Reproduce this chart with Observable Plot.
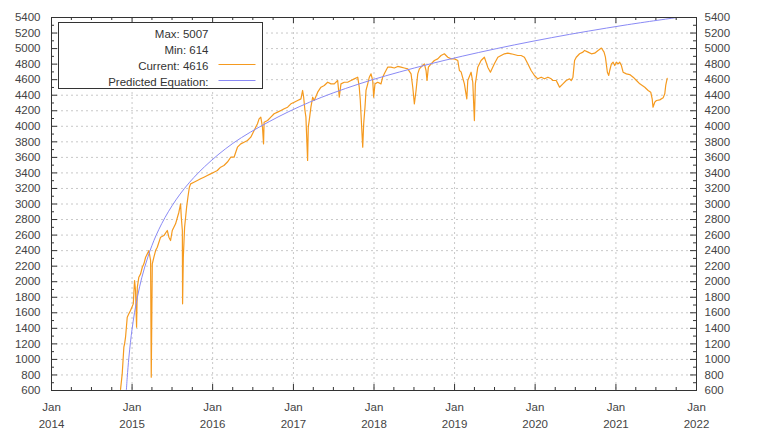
<!DOCTYPE html>
<html>
<head>
<meta charset="utf-8">
<script src="https://cdn.jsdelivr.net/npm/d3@7"></script>
<script src="https://cdn.jsdelivr.net/npm/@observablehq/plot@0.6"></script>
<style>
  html, body { margin: 0; padding: 0; background: #fff; }
</style>
</head>
<body>
<div id="chart"></div>
<script>
// ---- Data (decimal years) ----
const currentYears = [
  2014.857, 2014.878, 2014.898, 2014.907, 2014.919, 2014.940, 2014.960, 2014.981, 2015.015, 2015.031,
  2015.043, 2015.056, 2015.065, 2015.084, 2015.106, 2015.127, 2015.147, 2015.168, 2015.189, 2015.209,
  2015.230, 2015.238, 2015.251, 2015.271, 2015.292, 2015.313, 2015.354, 2015.395, 2015.437, 2015.457,
  2015.478, 2015.499, 2015.540, 2015.581, 2015.602, 2015.611, 2015.624, 2015.627, 2015.636, 2015.652,
  2015.677, 2015.693, 2015.711, 2015.727, 2015.768, 2015.810, 2015.851, 2015.892, 2015.934, 2015.975,
  2016.016, 2016.058, 2016.099, 2016.140, 2016.183, 2016.224, 2016.265, 2016.307, 2016.348, 2016.389,
  2016.431, 2016.472, 2016.513, 2016.555, 2016.575, 2016.596, 2016.617, 2016.630, 2016.637, 2016.680,
  2016.720, 2016.761, 2016.804, 2016.845, 2016.886, 2016.928, 2016.969, 2017.010, 2017.052, 2017.093,
  2017.114, 2017.127, 2017.143, 2017.155, 2017.176, 2017.184, 2017.196, 2017.217, 2017.239, 2017.258,
  2017.301, 2017.342, 2017.383, 2017.425, 2017.466, 2017.507, 2017.549, 2017.569, 2017.590, 2017.631,
  2017.673, 2017.714, 2017.755, 2017.798, 2017.817, 2017.830, 2017.860, 2017.872, 2017.888, 2017.901,
  2017.922, 2017.942, 2017.963, 2017.984, 2017.996, 2018.012, 2018.046, 2018.087, 2018.108, 2018.128,
  2018.170, 2018.211, 2018.252, 2018.294, 2018.335, 2018.376, 2018.419, 2018.460, 2018.481, 2018.501,
  2018.522, 2018.543, 2018.563, 2018.584, 2018.605, 2018.625, 2018.646, 2018.658, 2018.675, 2018.708,
  2018.749, 2018.791, 2018.832, 2018.873, 2018.916, 2018.957, 2018.998, 2019.040, 2019.060, 2019.081,
  2019.122, 2019.152, 2019.164, 2019.205, 2019.226, 2019.246, 2019.258, 2019.288, 2019.329, 2019.370,
  2019.412, 2019.445, 2019.494, 2019.537, 2019.578, 2019.619, 2019.661, 2019.702, 2019.785, 2019.826,
  2019.867, 2019.909, 2019.950, 2019.991, 2020.033, 2020.075, 2020.116, 2020.158, 2020.199, 2020.220,
  2020.261, 2020.282, 2020.302, 2020.344, 2020.385, 2020.426, 2020.447, 2020.468, 2020.488, 2020.509,
  2020.550, 2020.592, 2020.612, 2020.655, 2020.696, 2020.737, 2020.779, 2020.820, 2020.853, 2020.870,
  2020.894, 2020.911, 2020.923, 2020.944, 2020.965, 2020.985, 2021.006, 2021.027, 2021.047, 2021.068,
  2021.089, 2021.130, 2021.171, 2021.214, 2021.255, 2021.296, 2021.358, 2021.400, 2021.432, 2021.450,
  2021.460, 2021.482, 2021.503, 2021.544, 2021.586, 2021.606, 2021.618, 2021.636
];
const currentValues = [
  614, 818, 1157, 1200, 1286, 1543, 1587, 1629, 1715, 2015,
  1886, 1415, 1929, 2058, 2101, 2186, 2230, 2315, 2358, 2401,
  2273, 771, 2230, 2315, 2401, 2444, 2573, 2594, 2659, 2573,
  2530, 2659, 2745, 2894, 3002, 2830, 2659, 1715, 2315, 2701,
  2959, 3087, 3216, 3259, 3280, 3302, 3324, 3345, 3367, 3388,
  3409, 3431, 3474, 3495, 3540, 3602, 3602, 3731, 3774, 3795,
  3817, 3860, 3946, 4032, 4096, 4117, 3988, 3774, 4053, 4074,
  4117, 4161, 4182, 4203, 4225, 4246, 4289, 4310, 4332, 4353,
  4461, 4374, 4203, 4117, 3560, 3988, 4074, 4246, 4374, 4332,
  4439, 4503, 4525, 4567, 4546, 4546, 4589, 4374, 4546, 4567,
  4567, 4589, 4610, 4632, 4503, 4332, 3731, 4032, 4246, 4461,
  4546, 4632, 4675, 4589, 4374, 4546, 4567, 4546, 4632, 4675,
  4761, 4761, 4750, 4770, 4761, 4750, 4739, 4675, 4503, 4289,
  4461, 4675, 4739, 4761, 4782, 4804, 4718, 4589, 4761, 4804,
  4847, 4868, 4911, 4933, 4889, 4868, 4868, 4847, 4718, 4700,
  4546, 4354, 4589, 4696, 4567, 4074, 4546, 4761, 4847, 4889,
  4761, 4696, 4804, 4889, 4911, 4933, 4941, 4933, 4911, 4911,
  4889, 4804, 4718, 4654, 4611, 4632, 4611, 4632, 4611, 4589,
  4589, 4546, 4503, 4546, 4589, 4611, 4589, 4632, 4847, 4889,
  4933, 4954, 4976, 4954, 4933, 4941, 4976, 5007, 4954, 4889,
  4696, 4654, 4718, 4804, 4825, 4782, 4825, 4804, 4825, 4782,
  4696, 4675, 4666, 4632, 4589, 4546, 4503, 4461, 4439, 4354,
  4246, 4310, 4332, 4340, 4366, 4418, 4525, 4616
];
const predictedYears = [
  2014.929, 2014.94, 2014.96, 2014.98, 2015.00, 2015.03, 2015.07, 2015.12, 2015.20, 2015.30,
  2015.45, 2015.65, 2015.90, 2016.25, 2016.70, 2017.20, 2017.80, 2018.50, 2019.30, 2020.20,
  2021.10, 2021.76
];
const predictedValues = [
  600, 770, 1020, 1220, 1390, 1600, 1820, 2050, 2330, 2600,
  2900, 3200, 3480, 3780, 4060, 4310, 4540, 4750, 4950, 5140,
  5300, 5400
];
const yTickValues = [600, 800, 1000, 1200, 1400, 1600, 1800, 2000, 2200, 2400, 2600, 2800, 3000,
  3200, 3400, 3600, 3800, 4000, 4200, 4400, 4600, 4800, 5000, 5200, 5400];
const yMinorValues = [700, 900, 1100, 1300, 1500, 1700, 1900, 2100, 2300, 2500, 2700, 2900, 3100,
  3300, 3500, 3700, 3900, 4100, 4300, 4500, 4700, 4900, 5100, 5300];
const xTickYears = [2014, 2015, 2016, 2017, 2018, 2019, 2020, 2021, 2022];
const seriesNames = ["Current", "Predicted Equation"];
const seriesColors = ["#f59a1f", "#8a8af5"];

// ---- helpers ----
const toDate = t => {
  const y = Math.floor(t);
  const a = Date.UTC(y, 0, 1), b = Date.UTC(y + 1, 0, 1);
  return new Date(a + (t - y) * (b - a));
};
const current = currentYears.map((t, i) => ({date: toDate(t), value: currentValues[i]}));
const predicted = predictedYears.map((t, i) => ({date: toDate(t), value: predictedValues[i]}));
const xTicks = xTickYears.map(y => new Date(Date.UTC(y, 0, 1)));
const xMinor = d3.utcMonth.every(3).range(xTicks[0], xTicks[xTicks.length - 1]).filter(d => d.getUTCMonth() !== 0);

const maxV = d3.max(currentValues), minV = d3.min(currentValues), curV = currentValues[currentValues.length - 1];
const legendText = [`Max: ${maxV}`, `Min: ${minV}`, `${seriesNames[0]}: ${curV}`, `${seriesNames[1]}:`].join("\n");

// ---- layout ----
const W = 759, H = 438;
const mL = 51, mR = 63, mT = 17, mB = 48;
const pw = W - mL - mR, ph = H - mT - mB;
const tickLen = 6, minorLen = 3;
const frameColor = "#333";
const gridStyle = {stroke: "#c8c8c8", strokeDasharray: "2,3", strokeWidth: 1};
const labelFont = 11.5;

const chart = Plot.plot({
  width: W, height: H,
  marginLeft: mL, marginRight: mR, marginTop: mT, marginBottom: mB,
  style: {fontFamily: "'Liberation Sans', Arial, sans-serif", fontSize: "11px", background: "#fff", color: "#444"},
  x: {type: "utc", domain: [xTicks[0], xTicks[xTicks.length - 1]]},
  y: {domain: [yTickValues[0], yTickValues[yTickValues.length - 1]]},
  marks: [
    // grid
    Plot.ruleX(xTicks.slice(1, -1), {x: d => d, ...gridStyle}),
    Plot.ruleY(yTickValues.slice(1, -1), {y: d => d, ...gridStyle}),
    // legend box
    Plot.frame({fill: "#fff", stroke: frameColor, strokeWidth: 1,
      insetLeft: 7, insetTop: 5, insetRight: pw - 211, insetBottom: ph - 71}),
    Plot.frame({fill: seriesColors[0], stroke: "none",
      insetLeft: 167, insetRight: pw - 204, insetTop: 46.5, insetBottom: ph - 47.5}),
    Plot.frame({fill: seriesColors[1], stroke: "none",
      insetLeft: 167, insetRight: pw - 204, insetTop: 62.5, insetBottom: ph - 63.5}),
    Plot.text([legendText], {frameAnchor: "top-left", text: d => d, dx: 157, dy: 9,
      textAnchor: "end", lineAnchor: "top", lineHeight: 16 / 11.5, fill: "#333", fontSize: labelFont}),
    // series
    Plot.line(current, {x: "date", y: "value", stroke: seriesColors[0], strokeWidth: 1.2, clip: true}),
    Plot.line(predicted, {x: "date", y: "value", stroke: seriesColors[1], strokeWidth: 1, curve: "catmull-rom", clip: true}),
    // inward ticks
    Plot.tickY(yTickValues, {y: d => d, insetRight: pw - tickLen, stroke: frameColor}),
    Plot.tickY(yTickValues, {y: d => d, insetLeft: pw - tickLen, stroke: frameColor}),
    Plot.tickY(yMinorValues, {y: d => d, insetRight: pw - minorLen, stroke: frameColor}),
    Plot.tickY(yMinorValues, {y: d => d, insetLeft: pw - minorLen, stroke: frameColor}),
    Plot.tickX(xTicks, {x: d => d, insetTop: ph - tickLen, stroke: frameColor}),
    Plot.tickX(xTicks, {x: d => d, insetBottom: ph - tickLen, stroke: frameColor}),
    Plot.tickX(xMinor, {x: d => d, insetTop: ph - minorLen, stroke: frameColor}),
    Plot.tickX(xMinor, {x: d => d, insetBottom: ph - minorLen, stroke: frameColor}),
    Plot.frame({stroke: frameColor, strokeWidth: 1}),
    // axes labels
    Plot.axisX(xTicks, {anchor: "bottom", tickSize: 0, tickPadding: 8, label: null,
      tickFormat: d3.utcFormat("%b\n%Y"), lineHeight: 1.5, fill: "#444", fontSize: labelFont}),
    Plot.axisY(yTickValues, {anchor: "left", tickSize: 0, tickPadding: 11, label: null,
      tickFormat: d3.format("d"), fill: "#444", fontSize: labelFont}),
    Plot.axisY(yTickValues, {anchor: "right", tickSize: 0, tickPadding: 8, label: null,
      tickFormat: d3.format("d"), fill: "#444", fontSize: labelFont})
  ]
});
document.getElementById("chart").appendChild(chart);
</script>
</body>
</html>
